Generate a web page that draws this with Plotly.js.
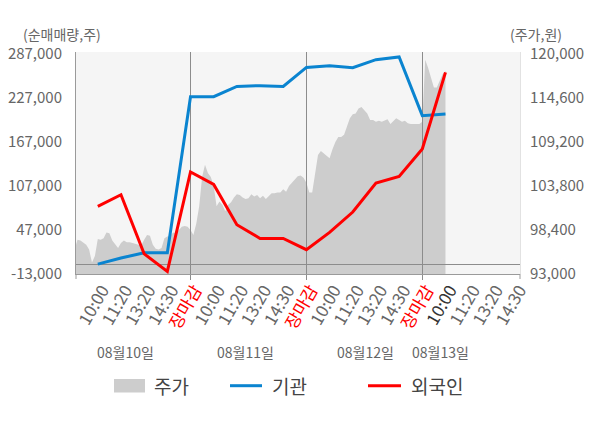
<!DOCTYPE html>
<html>
<head>
<meta charset="utf-8">
<script src="https://cdn.plot.ly/plotly-3.0.1.min.js"></script>
<style>html,body{margin:0;padding:0;background:#fff;}</style>
</head>
<body>
<div id="chart" style="width:600px;height:428px;"></div>
<script>
// ---- data ----
const slotLabels = ['10:00','11:20','13:20','14:30','장마감',
                    '10:00','11:20','13:20','14:30','장마감',
                    '10:00','11:20','13:20','14:30','장마감',
                    '10:00','11:20','13:20','14:30'];
const dayLabels = ['08월10일','08월11일','08월12일','08월13일'];

// net buying (shares) at slots 1..16
const institution = [500, 8800, 16000, 16000, 228800, 228800, 242800, 243800, 242800,
                     268700, 271000, 268300, 279200, 282900, 202900, 205200];
const foreign = [79200, 95100, 14500, -9500, 126100, 109200, 54200, 35500, 35500,
                 20100, 43700, 71500, 111100, 120100, 157500, 261900];

// stock price (won), sampled every 1/8 slot
const price = [
  96000, 97200, 97100, 96900, 96600, 96000, 94400, 95200, 97300, 97200, 97400, 98100, 98000, 97100, 96600, 96200,
  96800, 97100, 96900, 96900, 96800, 96700, 96600, 96500, 97200, 97800, 97700, 96600, 96100, 96000, 96200, 97400,
  97600, 97700, 98100, 98000, 98400, 98800, 98900, 98800, 98400,
  97800, 99200, 101300, 104900, 106400, 105400, 104900, 103800, 101300, 101900, 101500, 100700, 101500, 101800, 102400, 102800,
  102700, 102400, 102200, 102300, 102800, 102500, 102700, 102300, 102600, 102200, 102500, 102900, 102900, 103000, 103000, 103400,
  103100, 103800, 104200, 104600, 105000, 105100, 104800, 104200,
  103000, 103000, 105200, 107600, 108100, 107800, 107600, 107200, 108300, 109200, 109800, 109800, 110100, 111200, 112100, 112600,
  112700, 113300, 113500, 113100, 112700, 111900, 111900, 111700, 111800, 111700, 111900, 112000, 111400, 111700, 112100, 111900,
  111700, 111800, 111500, 111400, 111400, 111400, 111400, 111700,
  119300, 118300, 117100, 115900, 115900, 116800, 117500, 117900
];

const volTicks = [-13000, 47000, 107000, 167000, 227000, 287000];
const volTickText = ['-13,000', '47,000', '107,000', '167,000', '227,000', '287,000'];
const priceTicks = [93000, 98400, 103800, 109200, 114600, 120000];
const priceTickText = ['93,000', '98,400', '103,800', '109,200', '114,600', '120,000'];
const legendNames = ['주가', '기관', '외국인'];

// ---- build ----
const LABEL_SHIFT = 0.2;
const slotX = slotLabels.map((_, i) => i + 1 + LABEL_SHIFT);
const lineX = institution.map((_, i) => i + 1);
const priceX = price.map((_, i) => i * 0.125);
const slotText = slotLabels.map((t, i) => {
  if (t === '장마감') return '<span style="color:#ff0000">' + t + '</span>';
  if (i === 15) return '<span style="color:#333333">' + t + '</span>';
  return t;
});

const FONT = 'Noto Sans CJK KR, Noto Sans, sans-serif';
const xr = [0.06, 19.215];
const yr2 = [-13000, 289700];

const traces = [
  {x: priceX, y: price, xaxis: 'x', yaxis: 'y', type: 'scatter', mode: 'lines',
   fill: 'tozeroy', fillcolor: '#cdcdcd', line: {width: 0, color: '#cdcdcd'}, name: legendNames[0], hoverinfo: 'skip'},
  {x: lineX, y: institution, xaxis: 'x2', yaxis: 'y2', type: 'scatter', mode: 'lines',
   line: {width: 3, color: '#0a84d0'}, name: legendNames[1]},
  {x: lineX, y: foreign, xaxis: 'x2', yaxis: 'y2', type: 'scatter', mode: 'lines',
   line: {width: 3, color: '#ff0000'}, name: legendNames[2]}
];

const px = v => (v - 76) / 444;
const py = v => (274 - v) / 222;

const layout = {
  width: 600, height: 428,
  margin: {l: 76, r: 80, t: 52, b: 154, pad: 0},
  paper_bgcolor: '#ffffff', plot_bgcolor: 'rgba(0,0,0,0)',
  showlegend: false,
  font: {family: FONT, size: 15, color: '#666666'},
  xaxis: {domain: [0, 1], anchor: 'y', range: xr, tickmode: 'array', tickvals: slotX, ticktext: slotText,
          tickangle: -60, ticks: '', showgrid: false, zeroline: false, showline: false, ticklabelstandoff: 2,
          tickfont: {family: FONT, size: 17, color: '#666666'}},
  yaxis: {domain: [0, 1], anchor: 'x', side: 'right', range: [93000, 120245], tickmode: 'array',
          tickvals: priceTicks, ticktext: priceTickText, showgrid: false, zeroline: false,
          showline: true, linecolor: '#e2e2e2', ticks: '', ticklabelstandoff: 6,
          tickfont: {family: FONT, size: 15, color: '#666666'}},
  xaxis2: {domain: [0, 1], anchor: 'y2', range: xr, tickmode: 'array', tickvals: [5, 10, 15],
           showticklabels: false, showgrid: true, gridcolor: '#8c8c8c', gridwidth: 1,
           ticks: 'outside', ticklen: 5, tickcolor: '#8c8c8c', showline: true, linecolor: '#9a9a9a', zeroline: false},
  yaxis2: {domain: [0, 1], anchor: 'x2', side: 'left', range: yr2, tickmode: 'array',
           tickvals: volTicks, ticktext: volTickText, showgrid: false, zeroline: true,
           zerolinecolor: '#8c8c8c', zerolinewidth: 1, showline: true, linecolor: '#9a9a9a', ticks: '',
           ticklabelstandoff: 10, tickfont: {family: FONT, size: 15, color: '#666666'}},
  yaxis3: {overlaying: 'y2', anchor: 'x2', side: 'left', range: yr2, tickmode: 'array',
           tickvals: [47000, 107000, 167000, 227000], showticklabels: false, showgrid: true,
           gridcolor: '#dcdcdc', gridwidth: 1, zeroline: false, showline: false, ticks: ''},
  shapes: [
    {type: 'rect', xref: 'paper', yref: 'paper', x0: 0, x1: 1, y0: 0, y1: 1, fillcolor: '#f5f5f5', line: {width: 0}, layer: 'below'},
    {type: 'line', xref: 'paper', yref: 'paper', x0: 0, x1: 0, y0: 0, y1: -0.0225, line: {color: '#9a9a9a', width: 1}},
    {type: 'line', xref: 'paper', yref: 'paper', x0: 1, x1: 1, y0: 0, y1: -0.0225, line: {color: '#9a9a9a', width: 1}},
    // legend symbols
    {type: 'rect', xref: 'paper', yref: 'paper', x0: px(114), x1: px(145), y0: py(392.5), y1: py(379), fillcolor: '#cdcdcd', line: {width: 0}},
    {type: 'line', xref: 'paper', yref: 'paper', x0: px(230), x1: px(262), y0: py(385.7), y1: py(385.7), line: {color: '#0a84d0', width: 3}},
    {type: 'line', xref: 'paper', yref: 'paper', x0: px(368), x1: px(401), y0: py(385.7), y1: py(385.7), line: {color: '#ff0000', width: 3}}
  ],
  annotations: [
    {text: '(순매매량,주)', xref: 'paper', yref: 'paper', x: px(21), y: py(33.5), xanchor: 'left', yanchor: 'middle', showarrow: false, font: {size: 14, color: '#666666'}},
    {text: '(주가,원)', xref: 'paper', yref: 'paper', x: px(508), y: py(34), xanchor: 'left', yanchor: 'middle', showarrow: false, font: {size: 14, color: '#666666'}},
    {text: dayLabels[0], xref: 'paper', yref: 'paper', x: px(125), y: py(352), xanchor: 'center', yanchor: 'middle', showarrow: false, font: {size: 14, color: '#666666'}},
    {text: dayLabels[1], xref: 'paper', yref: 'paper', x: px(245), y: py(352), xanchor: 'center', yanchor: 'middle', showarrow: false, font: {size: 14, color: '#666666'}},
    {text: dayLabels[2], xref: 'paper', yref: 'paper', x: px(365), y: py(352), xanchor: 'center', yanchor: 'middle', showarrow: false, font: {size: 14, color: '#666666'}},
    {text: dayLabels[3], xref: 'paper', yref: 'paper', x: px(440), y: py(352), xanchor: 'center', yanchor: 'middle', showarrow: false, font: {size: 14, color: '#666666'}},
    {text: legendNames[0], xref: 'paper', yref: 'paper', x: px(152), y: py(385.5), xanchor: 'left', yanchor: 'middle', showarrow: false, font: {size: 19, color: '#444444'}},
    {text: legendNames[1], xref: 'paper', yref: 'paper', x: px(270), y: py(385.5), xanchor: 'left', yanchor: 'middle', showarrow: false, font: {size: 19, color: '#444444'}},
    {text: legendNames[2], xref: 'paper', yref: 'paper', x: px(409), y: py(385.5), xanchor: 'left', yanchor: 'middle', showarrow: false, font: {size: 19, color: '#444444'}}
  ]
};

Plotly.newPlot('chart', traces, layout, {displayModeBar: false, staticPlot: true});
</script>
</body>
</html>
